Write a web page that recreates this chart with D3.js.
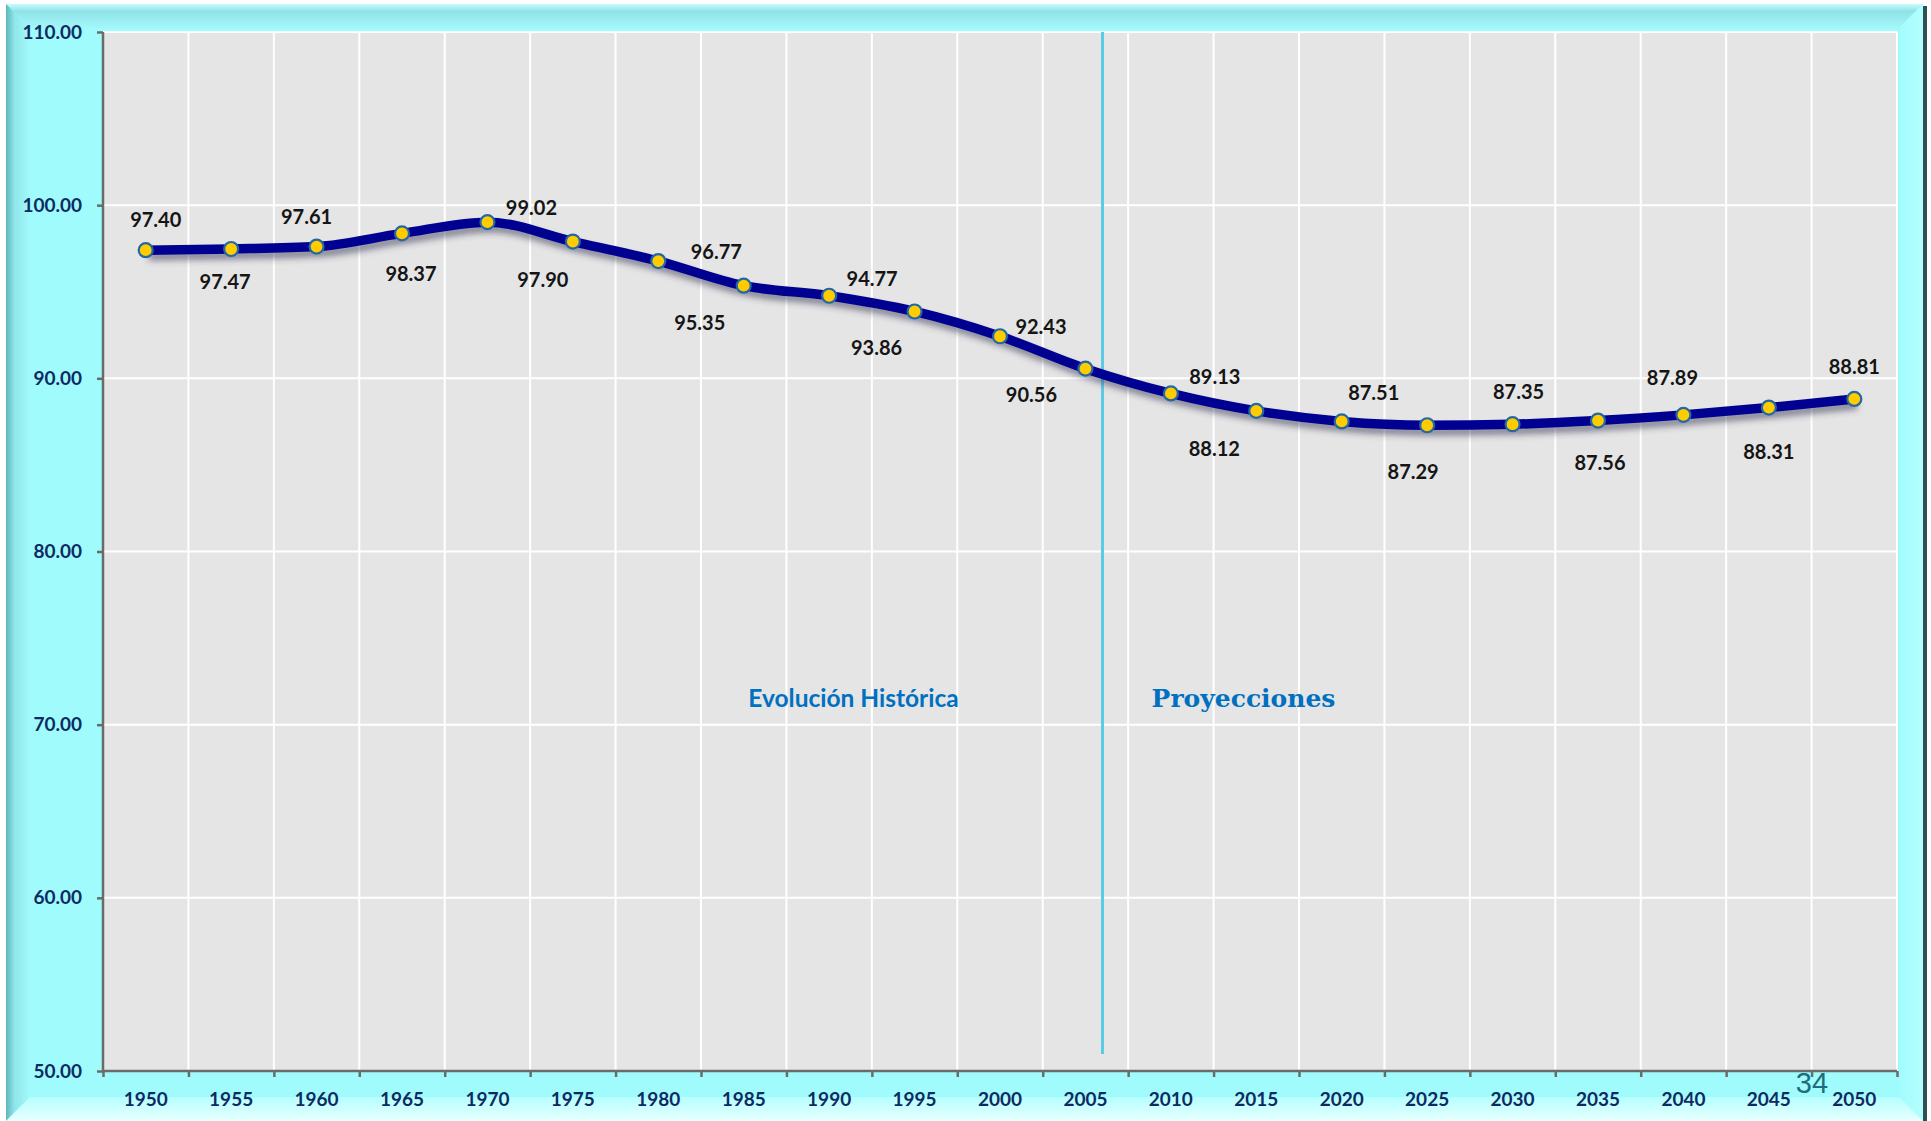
<!DOCTYPE html>
<html>
<head>
<meta charset="utf-8">
<script src="https://cdn.jsdelivr.net/npm/d3@7"></script>
<style>
  html, body { margin: 0; padding: 0; background: #ffffff; }
  svg { display: block; }
</style>
</head>
<body>
<div id="chart"></div>
<script>
// data
let years = [1950, 1955, 1960, 1965, 1970, 1975, 1980, 1985, 1990, 1995, 2000,
    2005, 2010, 2015, 2020, 2025, 2030, 2035, 2040, 2045, 2050];
let values = [97.40, 97.47, 97.61, 98.37, 99.02, 97.90, 96.77, 95.35, 94.77, 93.86, 92.43,
    90.56, 89.13, 88.12, 87.51, 87.29, 87.35, 87.56, 87.89, 88.31, 88.81];
let yTicks = [50, 60, 70, 80, 90, 100, 110];
let dividerYear = 2006;
let leftNote = "Evolución Histórica";
let rightNote = "Proyecciones";
let pageNumber = "34";

// hand-dragged label nudges (like the excel labels), px from each point
let labelDx = [10, -6, -10, 9, 44, -30, 58, -44, 43, -38, 41, -54, 44, -42, 32, -14, 6, 2, -11, 0, 0];
let labelDy = [-30, 33, -30, 41, -14, 38, -9, 37, -17, 37, -9, 26, -16, 38, -28, 47, -32, 42, -37, 44, -32];

let W = 1931, H = 1121;
let margin = { top: 32, right: 34, bottom: 50, left: 103 };
let width = W - margin.left - margin.right;
let height = H - margin.top - margin.bottom;

let svg = d3.select('#chart').append('svg')
    .attr('width', W)
    .attr('height', H);

let defs = svg.append('defs');

function grad(id, x2, y2, stops) {
    let g = defs.append('linearGradient').attr('id', id)
        .attr('x1', 0).attr('y1', 0).attr('x2', x2).attr('y2', y2);
    stops.forEach(function (s) {
        g.append('stop').attr('offset', s[0]).attr('stop-color', s[1]);
    });
}
grad('gTop', 0, 1, [[0, '#c8fbfc'], [0.3, '#8fe3e8'], [1, '#a3f7f9']]);
grad('gLeft', 1, 0, [[0, '#5eb6bb'], [0.35, '#8ee6ea'], [1, '#a2fafb']]);
grad('gRight', 1, 0, [[0, '#a2fcfc'], [1, '#b4ffff']]);
grad('gBottom', 0, 1, [[0, '#b6ffff'], [1, '#e6ffff']]);

let shadow = defs.append('filter').attr('id', 'shadow')
    .attr('x', '-5%').attr('y', '-20%').attr('width', '110%').attr('height', '140%');
shadow.append('feGaussianBlur').attr('stdDeviation', 3);

// frame with bevel
let fx0 = 6, fy0 = 4, fx1 = 1923, fy1 = H, bv = 24;
svg.append('rect')
    .attr('x', fx0).attr('y', fy0)
    .attr('width', fx1 - fx0).attr('height', fy1 - fy0)
    .style('fill', '#a0fcfc');
svg.append('path')
    .attr('d', 'M' + fx0 + ',' + fy0 + 'L' + fx1 + ',' + fy0 + 'L' + (fx1 - bv) + ',' + (fy0 + bv) + 'L' + (fx0 + bv) + ',' + (fy0 + bv) + 'Z')
    .style('fill', 'url(#gTop)');
svg.append('path')
    .attr('d', 'M' + fx0 + ',' + fy0 + 'L' + (fx0 + bv) + ',' + (fy0 + bv) + 'L' + (fx0 + bv) + ',' + (fy1 - bv) + 'L' + fx0 + ',' + fy1 + 'Z')
    .style('fill', 'url(#gLeft)');
svg.append('path')
    .attr('d', 'M' + fx1 + ',' + fy0 + 'L' + (fx1 - bv) + ',' + (fy0 + bv) + 'L' + (fx1 - bv) + ',' + (fy1 - bv) + 'L' + fx1 + ',' + fy1 + 'Z')
    .style('fill', 'url(#gRight)');
svg.append('path')
    .attr('d', 'M' + fx0 + ',' + fy1 + 'L' + (fx0 + bv) + ',' + (fy1 - bv) + 'L' + (fx1 - bv) + ',' + (fy1 - bv) + 'L' + fx1 + ',' + fy1 + 'Z')
    .style('fill', 'url(#gBottom)');
svg.append('rect')
    .attr('x', fx1).attr('y', fy0 + 2)
    .attr('width', 4).attr('height', fy1 - fy0)
    .style('fill', '#2e5052');

let g = svg.append('g')
    .attr('transform', 'translate(' + margin.left + ', ' + margin.top + ')');

let xScale = d3.scaleBand()
    .domain(years)
    .range([0, width]);
let bw = xScale.bandwidth();

// band edges for grid + tick marks
let xEdge = d3.scaleLinear()
    .domain([0, years.length])
    .range([0, width]);

let yScale = d3.scaleLinear()
    .domain([d3.min(yTicks), d3.max(yTicks)])
    .range([height, 0]);

function xPos(i) {
    return xScale(years[i]) + bw / 2;
}
function xYear(yr) {
    let i = d3.bisectRight(years, yr) - 1;
    let t = (yr - years[i]) / (years[i + 1] - years[i]);
    return xPos(i) + t * bw;
}

g.append('rect')
    .attr('width', width)
    .attr('height', height)
    .style('fill', '#e5e5e5');

// gridlines
g.append('g').selectAll('line')
    .data(d3.range(1, years.length + 1))
    .enter().append('line')
    .attr('x1', function (d) { return xEdge(d); })
    .attr('x2', function (d) { return xEdge(d); })
    .attr('y1', 0)
    .attr('y2', height)
    .style('stroke', '#ffffff')
    .style('stroke-width', 2);

g.append('g').selectAll('line')
    .data(yTicks.slice(1))
    .enter().append('line')
    .attr('x1', 0)
    .attr('x2', width)
    .attr('y1', function (d) { return yScale(d); })
    .attr('y2', function (d) { return yScale(d); })
    .style('stroke', '#ffffff')
    .style('stroke-width', 2);

// divider line between history and projections
let divX = xYear(dividerYear);
g.append('line')
    .attr('x1', divX)
    .attr('x2', divX)
    .attr('y1', 0)
    .attr('y2', height - 17)
    .style('stroke', '#5ccbe8')
    .style('stroke-width', 3);

g.append('text')
    .attr('x', divX - 249)
    .attr('y', yScale(70) - 26)
    .attr('text-anchor', 'middle')
    .attr('dy', '0.35em')
    .style('font-family', 'Lato, "Open Sans", sans-serif')
    .style('font-weight', 'bold')
    .style('font-size', '24.5px')
    .style('fill', '#0070c0')
    .text(leftNote);

g.append('text')
    .attr('x', divX + 141)
    .attr('y', yScale(70) - 26)
    .attr('text-anchor', 'middle')
    .attr('dy', '0.35em')
    .style('font-family', '"DejaVu Serif", "Liberation Serif", serif')
    .style('font-weight', 'bold')
    .style('font-size', '25px')
    .style('fill', '#0070c0')
    .text(rightNote);

// axes
let yAxis = d3.axisLeft(yScale)
    .tickValues(yTicks)
    .tickSize(6)
    .tickPadding(15)
    .tickFormat(d3.format('.2f'));
let yG = g.append('g').call(yAxis);
yG.select('.domain').remove();
yG.append('line')
    .attr('x1', 0).attr('x2', 0)
    .attr('y1', 0).attr('y2', height);

let xTicks = d3.axisBottom(xEdge)
    .tickValues(d3.range(0, years.length + 1))
    .tickSize(6)
    .tickFormat('');
let xG = g.append('g')
    .attr('transform', 'translate(0, ' + height + ')')
    .call(xTicks);
xG.select('.domain').remove();
xG.append('line')
    .attr('x1', 0).attr('x2', width)
    .attr('y1', 0).attr('y2', 0);

let xLabels = d3.axisBottom(xScale)
    .tickSize(0)
    .tickPadding(22);
let xlG = g.append('g')
    .attr('transform', 'translate(0, ' + height + ')')
    .call(xLabels);
xlG.select('.domain').remove();

[yG, xG].forEach(function (a) {
    a.selectAll('line').style('stroke', '#6b6b6b').style('stroke-width', 2.5);
});
[yG, xlG].forEach(function (a) {
    a.selectAll('text')
        .style('font-family', 'Lato, "Open Sans", sans-serif')
        .style('font-weight', 'bold')
        .style('font-size', '19px')
        .style('fill', '#0e2a63');
});

// series
let line = d3.line()
    .x(function (d, i) { return xPos(i); })
    .y(function (d) { return yScale(d); })
    .curve(d3.curveMonotoneX);

g.append('path')
    .datum(values)
    .attr('d', line)
    .attr('transform', 'translate(3, 6)')
    .attr('filter', 'url(#shadow)')
    .style('fill', 'none')
    .style('stroke', 'rgba(60, 60, 90, 0.55)')
    .style('stroke-width', 9);

g.append('path')
    .datum(values)
    .attr('d', line)
    .style('fill', 'none')
    .style('stroke', '#000091')
    .style('stroke-width', 9.5)
    .style('stroke-linejoin', 'round');

g.append('g').selectAll('circle')
    .data(values)
    .enter().append('circle')
    .attr('cx', function (d, i) { return xPos(i); })
    .attr('cy', function (d) { return yScale(d); })
    .attr('r', 7)
    .style('fill', '#ffcc00')
    .style('stroke', '#2467a6')
    .style('stroke-width', 2.2);

g.append('g').selectAll('text')
    .data(values)
    .enter().append('text')
    .attr('x', function (d, i) { return xPos(i) + labelDx[i]; })
    .attr('y', function (d, i) { return yScale(d) + labelDy[i]; })
    .attr('dy', '0.35em')
    .attr('text-anchor', 'middle')
    .style('font-family', 'Lato, "Open Sans", sans-serif')
    .style('font-weight', 'bold')
    .style('font-size', '20px')
    .style('fill', '#151515')
    .text(function (d) { return d3.format('.2f')(d); });

// page number
svg.append('text')
    .attr('x', 1812)
    .attr('y', 1093)
    .attr('text-anchor', 'middle')
    .style('font-family', '"Liberation Sans", Arial, sans-serif')
    .style('font-size', '29px')
    .style('fill', '#1d6c80')
    .text(pageNumber);
</script>
</body>
</html>
